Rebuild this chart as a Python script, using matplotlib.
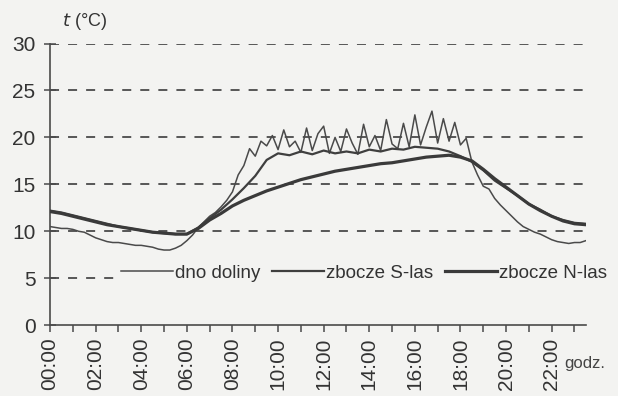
import numpy as np
import matplotlib.pyplot as plt
from matplotlib.ticker import MultipleLocator

# dno doliny - 15 min readings (hours 0..23.5)
t_dno = np.arange(0, 23.51, 0.25)
dno = [10.5, 10.4, 10.3, 10.3, 10.2, 10.0, 9.9, 9.6,
       9.3, 9.1, 8.9, 8.8, 8.8, 8.7, 8.6, 8.5,
       8.5, 8.4, 8.3, 8.1, 8.0, 8.0, 8.2, 8.5,
       9.0, 9.6, 10.4, 11.0, 11.6, 12.0, 12.6, 13.3,
       14.2, 16.0, 17.0,
       18.8, 18.0, 19.6, 19.1, 20.2, 18.7, 20.8, 19.0,
       19.6, 18.4, 21.0, 18.6, 20.4, 21.2, 18.3, 20.0,
       18.5, 20.9, 19.4, 18.2, 21.4, 19.0, 20.2, 18.6,
       21.9, 19.3, 18.8, 21.5, 19.0, 22.4, 19.2, 21.1,
       22.8, 19.4, 22.0, 19.6, 21.6, 19.2, 19.9, 17.4,
       16.0, 14.8, 14.5, 13.5, 12.8, 12.2, 11.6, 11.0,
       10.5, 10.2, 9.9, 9.7, 9.4, 9.1, 8.9, 8.8,
       8.7, 8.8, 8.8, 9.0]

# zbocza - 30 min readings
t_zb = np.arange(0, 23.51, 0.5)
s_las = [12.2, 12.0, 11.7, 11.4, 11.1, 10.8, 10.5, 10.3, 10.1, 9.9,
         9.8, 9.7, 9.7, 10.4, 11.4, 12.3, 13.4, 14.6, 15.9, 17.6,
         18.3, 18.1, 18.5, 18.2, 18.6, 18.3, 18.5, 18.3, 18.7, 18.5,
         18.8, 18.7, 19.0, 18.9, 18.8, 18.5, 18.0, 17.4, 16.5, 15.4,
         14.6, 13.8, 12.9, 12.3, 11.6, 11.2, 10.9, 10.8]
n_las = [12.1, 11.9, 11.6, 11.3, 11.0, 10.7, 10.5, 10.3, 10.1, 9.9,
         9.8, 9.7, 9.7, 10.3, 11.2, 11.9, 12.7, 13.3, 13.8, 14.3,
         14.7, 15.1, 15.5, 15.8, 16.1, 16.4, 16.6, 16.8, 17.0, 17.2,
         17.3, 17.5, 17.7, 17.9, 18.0, 18.1, 17.9, 17.5, 16.6, 15.6,
         14.7, 13.8, 12.9, 12.2, 11.6, 11.1, 10.8, 10.7]

hours = list(range(0, 24, 2))
hour_labels = ["%02d:00" % h for h in hours]

BG = "#f3f3f1"
INK = "#4a4a4a"

plt.rcParams['font.family'] = ['Liberation Sans', 'DejaVu Sans']

fig = plt.figure(figsize=(6.18, 3.96), dpi=100, facecolor=BG)
ax = fig.add_axes([0.081, 0.179, 0.867, 0.711], facecolor=BG)

for y in [5, 10, 15, 20, 25, 30]:
    ax.axhline(y, color=INK, lw=1.3, ls=(0, (5, 5)), zorder=1)

ax.plot(t_dno, dno, color=INK, lw=1.1, label="dno doliny", zorder=3)
ax.plot(t_zb, s_las, color="#3f3f3f", lw=1.6, label="zbocze S-las", zorder=3)
ax.plot(t_zb, n_las, color="#3a3a3a", lw=2.3, label="zbocze N-las", zorder=4)

ax.set_xlim(0, 23.5)
ax.set_ylim(0, 30)
ax.set_yticks([0, 5, 10, 15, 20, 25, 30])
ax.set_xticks(hours)
ax.set_xticklabels(hour_labels, rotation=90)
ax.xaxis.set_minor_locator(MultipleLocator(1))

for s in ["top", "right"]:
    ax.spines[s].set_visible(False)
for s in ["left", "bottom"]:
    ax.spines[s].set_color(INK)
    ax.spines[s].set_linewidth(1.2)

ax.tick_params(axis="y", direction="inout", length=9, width=1.1, colors=INK,
               labelsize=15, labelcolor="#333333", pad=6)
ax.tick_params(axis="x", which="both", direction="out", length=5, width=1.1,
               colors=INK, labelsize=15, labelcolor="#333333", pad=4)

leg = ax.legend(loc="center left", bbox_to_anchor=(0.125, 0.185), ncol=3,
                frameon=True, facecolor=BG, edgecolor="none", framealpha=1,
                fontsize=13.5, handlelength=2.8, handletextpad=0.1,
                columnspacing=0.6, borderpad=0.2, borderaxespad=0,
                labelcolor="#333333")
leg.set_zorder(5)

fig.text(0.1, 0.935, "$t$ (°C)", fontsize=13, color="#333333")
fig.text(0.913, 0.07, "godz.", fontsize=12, color="#444444")

fig.savefig("out.png", dpi=100, facecolor=BG)
